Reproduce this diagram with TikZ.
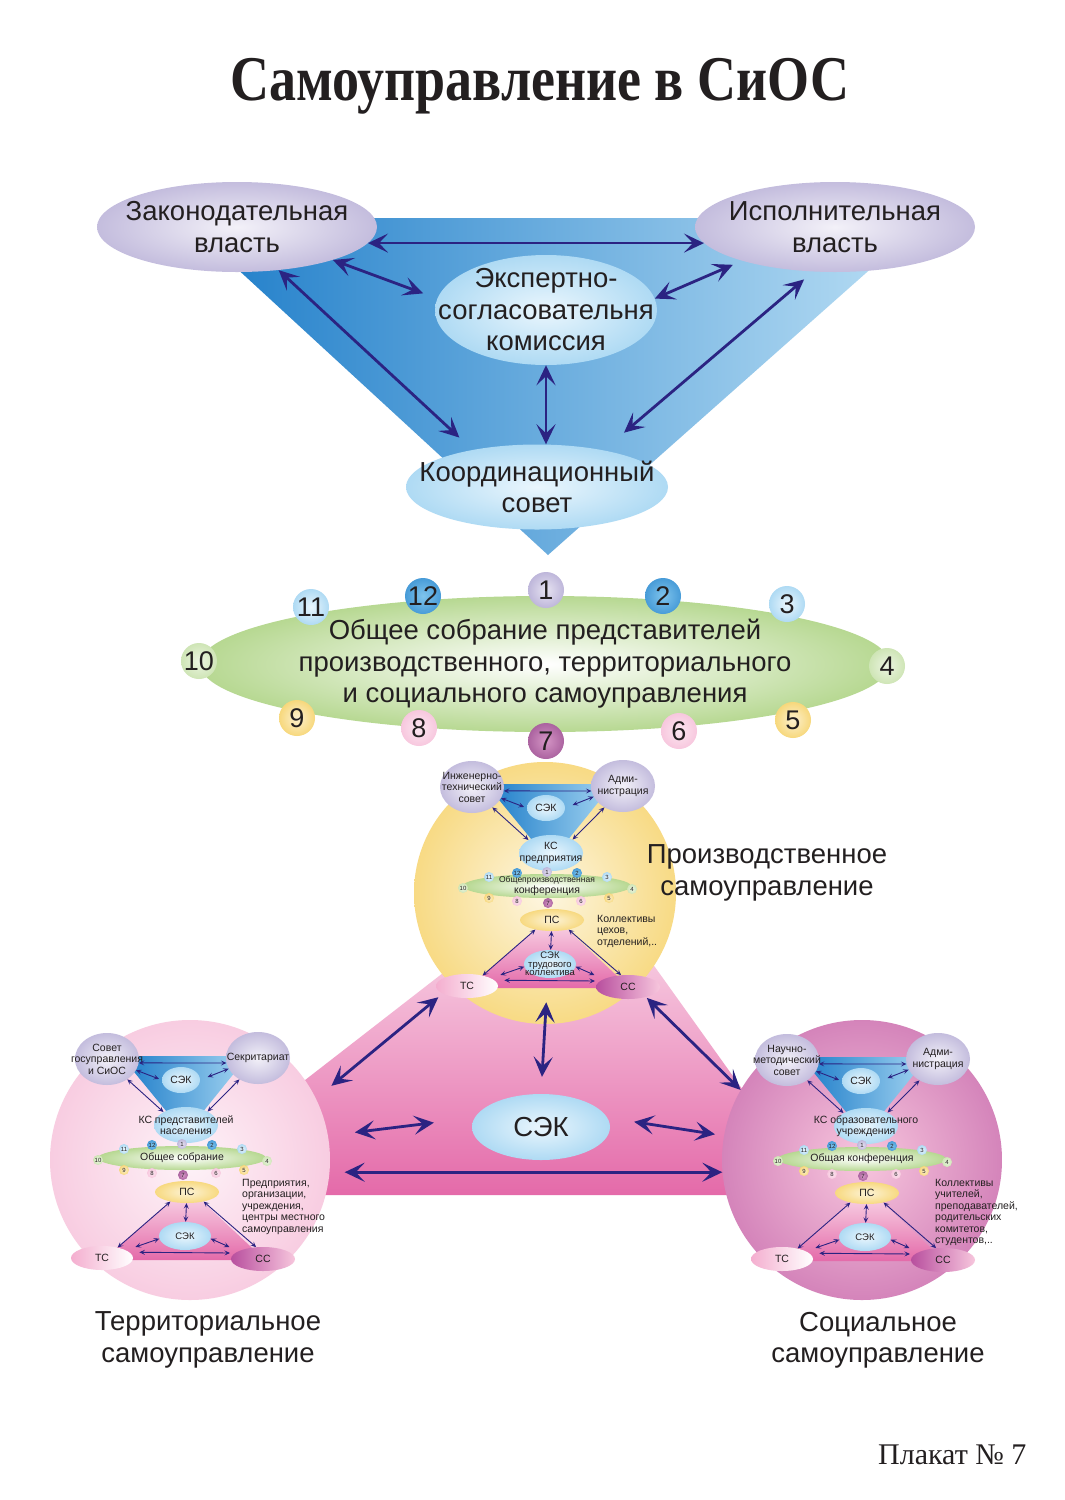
\documentclass[tikz,border=0pt]{standalone}
\usepackage{fontspec}
\setmainfont{Liberation Sans}
\newfontfamily\titlefont{Liberation Serif}
\usepackage{graphicx}
\usepackage{tikz}
\usetikzlibrary{shapes.geometric, arrows.meta}
\definecolor{ink}{HTML}{231F20}
\definecolor{navy}{HTML}{2B2382}
\definecolor{lilac}{HTML}{C2B9DD}
\definecolor{lilacdeep}{HTML}{9E93C8}
\definecolor{deepblue}{HTML}{1B7BC8}
\definecolor{sky}{HTML}{7FC4EC}
\definecolor{paleblue}{HTML}{BCE0F5}
\definecolor{icy}{HTML}{EAF6FD}
\definecolor{leaf}{HTML}{7DB93A}
\definecolor{sun}{HTML}{F3C43A}
\definecolor{rose}{HTML}{F4AECF}
\definecolor{hotpink}{HTML}{E46AA9}
\definecolor{plum}{HTML}{B84F9E}
\definecolor{grape}{HTML}{8A3A82}
\makeatletter
\pgfdeclareradialshading[tikz@radial@inner,tikz@radial@outer]{soft}{\pgfpoint{0bp}{0bp}}{color(0bp)=(tikz@radial@inner); color(45bp)=(tikz@radial@outer); color(50bp)=(tikz@radial@outer)}
\makeatother
\tikzstyle{power} = [ellipse, minimum width=280, minimum height=90, inner color=lilac!20, outer color=lilacdeep, shading=soft]
\tikzstyle{bubble} = [ellipse, inner color=icy, outer color=sky, shading=soft]
\tikzstyle{meadow} = [ellipse, inner color=white, outer color=leaf, shading=soft]
\tikzstyle{lilacdot} = [ellipse, minimum width=64, minimum height=52, inner color=lilac!20, outer color=lilacdeep, shading=soft]
\tikzstyle{sunny} = [ellipse, inner color=sun!20, outer color=sun, shading=soft]
\tikzstyle{tsoval} = [ellipse, minimum width=62, minimum height=24, left color=rose, right color=white]
\tikzstyle{ccoval} = [ellipse, minimum width=64, minimum height=24, left color=plum, right color=rose!70]
\tikzstyle{sunball} = [circle, minimum size=262, inner sep=0pt, inner color=sun!15, outer color=sun, shading=soft]
\tikzstyle{roseball} = [circle, minimum size=280, inner sep=0pt, inner color=rose!15, outer color=rose, shading=soft]
\tikzstyle{plumball} = [circle, minimum size=280, inner sep=0pt, inner color=rose!70, outer color=plum, shading=soft]
\tikzstyle{bigtext} = [font=\fontsize{27.5}{31.5}\selectfont, align=center]
\tikzstyle{tinytext} = [font=\fontsize{10.5}{11.5}\selectfont, align=center, inner sep=0pt]
\tikzstyle{sidetext} = [font=\fontsize{10.5}{11.5}\selectfont, align=left, anchor=north west, inner sep=0pt]
\tikzstyle{num} = [circle, minimum size=36, inner sep=0pt, font=\fontsize{27}{27}\selectfont]
\tikzstyle{snum} = [circle, minimum size=10, inner sep=0pt, font=\fontsize{6}{6}\selectfont]
\tikzstyle{clilac} = [inner color=lilac!40, outer color=lilacdeep, shading=soft]
\tikzstyle{cblue} = [inner color=sky, outer color=deepblue, shading=soft]
\tikzstyle{csky} = [inner color=icy, outer color=sky, shading=soft]
\tikzstyle{cgreen} = [inner color=leaf!15, outer color=leaf!55, shading=soft]
\tikzstyle{cyellow} = [inner color=sun!25, outer color=sun, shading=soft]
\tikzstyle{cpink} = [inner color=rose!30, outer color=rose, shading=soft]
\tikzstyle{cplum} = [inner color=plum!60, outer color=grape, shading=soft]
\tikzstyle{arrow} = [navy, line width=2.8pt, {Stealth[length=20pt, width=19pt, inset=9pt]}-{Stealth[length=20pt, width=19pt, inset=9pt]}]
\tikzstyle{arr} = [navy, line width=0.9pt, {Stealth[length=5.5pt, width=5pt, inset=2.4pt]}-{Stealth[length=5.5pt, width=5pt, inset=2.4pt]}]
\begin{document}
\begin{tikzpicture}[x=1pt, y=-1pt]
\tikzstyle{every node}=[text=ink]
\def\selfgov#1#2#3#4#5#6#7#8#9{
\begin{scope}[shift={#2}]
\shade[left color=deepblue, right color=sky!70] (-66,-136) -- (61,-136) -- (-2,-58) -- cycle;
\node (#1tl) [lilacdot] at (-80,-133) {};
\node (#1tlt) [tinytext] at (#1tl) {#3};
\node (#1tr) [lilacdot] at (71,-134) {};
\node (#1trt) [tinytext] at (#1tr) {#4};
\node (#1sek) [bubble, minimum width=38, minimum height=26] at (-6,-112) {};
\node (#1sekt) [tinytext] at (#1sek) {СЭК};
\node (#1ks) [bubble, minimum width=64, minimum height=36] at (-1,-67) {};
\node (#1kst) [tinytext] at (#1ks) {#5};
\draw[arr] (#1tl.-7) -- (#1tr.-171);
\draw[arr, shorten >=3pt] (#1tl.-21) -- (#1sek.180);
\draw[arr, shorten >=8pt] (#1tr.-160) -- (#1sek.0);
\draw[arr] (#1tl.-45) -- (#1ks.150);
\draw[arr] (#1tr.-131) -- (#1ks.32);
\node (#1meet) [meadow, minimum width=168, minimum height=24] at (-5,-34) {};
\node (#1n1) [snum, clilac] at (-5,-48) {1};
\node (#1n2) [snum, cblue] at (25,-47) {2};
\node (#1n3) [snum, csky] at (55,-43) {3};
\node (#1n4) [snum, cgreen] at (80,-31) {4};
\node (#1n5) [snum, cyellow] at (57,-22) {5};
\node (#1n6) [snum, cpink] at (29,-19) {6};
\node (#1n7) [snum, cplum] at (-4,-17) {7};
\node (#1n8) [snum, cpink] at (-35,-19) {8};
\node (#1n9) [snum, cyellow] at (-63,-22) {9};
\node (#1n10) [snum, cgreen] at (-89,-32) {10};
\node (#1n11) [snum, csky] at (-63,-43) {11};
\node (#1n12) [snum, cblue] at (-35,-47) {12};
\node (#1meett) [tinytext] at (#1meet) {#6};
\shade[top color=rose!40, bottom color=hotpink] (0,-5) -- (-84,68) -- (78,68) -- cycle;
\node (#1ps) [sunny, minimum width=64, minimum height=22] at (0,0) {};
\node (#1pst) [tinytext] at (#1ps) {ПС};
\node (#1sek2) [bubble, minimum width=52, minimum height=28] at (-2,44) {};
\node (#1sek2t) [tinytext, font=\fontsize{9.5}{8.5}\selectfont] at (#1sek2) {#7};
\node (#1ts) [tsoval] at (-85,66) {};
\node (#1tst) [tinytext] at (#1ts) {ТС};
\node (#1cc) [ccoval] at (76,67) {};
\node (#1cct) [tinytext] at (#1cc) {СС};
\draw[arr] (#1ps.-150) -- (#1ts.34);
\draw[arr] (#1ps.-30) -- (#1cc.120);
\draw[arr] (#1ps) -- (#1sek2);
\draw[arr, shorten >=10pt] (#1sek2.-174) -- (#1ts.18);
\draw[arr, shorten >=10pt] (#1sek2.-6) -- (#1cc.162);
\draw[arr, shorten <=10pt, shorten >=5pt] (#1ts.12) -- (#1cc.168);
\node (#1side) [sidetext] at #9 {#8};
\end{scope}}
\useasboundingbox (0,0) rectangle (1065,1500);
\fill[white] (0,0) rectangle (1065,1500);
\node (title) [font=\titlefont\bfseries\fontsize{54}{60}\selectfont] at (540,86) {\scalebox{1}[1.18]{Самоуправление в СиОС}};

\shade[left color=deepblue, right color=paleblue] (182,218) -- (928,218) -- (548,555) -- cycle;
\node (zak) [power] at (237,227) {};
\node (zakt) [bigtext] at (zak) {Законодательная\\власть};
\node (isp) [power] at (835,227) {};
\node (ispt) [bigtext] at (isp) {Исполнительная\\власть};
\node (esk) [bubble, minimum width=222, minimum height=110] at (546,310) {};
\node (eskt) [bigtext] at (esk) {Экспертно-\\согласовательня\\комиссия};
\node (kc) [bubble, minimum width=262, minimum height=85] at (537,487) {};
\node (kct) [bigtext] at (kc) {Координационный\\совет};

\draw[arrow] (zak.-7) -- (isp.-173);
\draw[arrow, shorten >=15pt] (zak.-19) -- (esk.174);
\draw[arrow, shorten <=10pt] (isp.-160) -- (esk.6);
\draw[arrow, shorten >=18pt] (zak.-46) -- (kc.150);
\draw[arrow, shorten <=12pt, shorten >=27pt] (isp.-116) -- (kc.29);
\draw[arrow] (esk.south) -- (esk.south |- kc.north);

\node (meet) [meadow, minimum width=690, minimum height=136] at (545,664) {};
\node (meett) [bigtext] at (meet) {Общее собрание представителей\\производственного, территориального\\и социального самоуправления};
\node (n1) [num, clilac] at (546,590) {1};
\node (n2) [num, cblue] at (663,596) {2};
\node (n3) [num, csky] at (787,604) {3};
\node (n4) [num, cgreen] at (887,666) {4};
\node (n5) [num, cyellow] at (793,720) {5};
\node (n6) [num, cpink] at (679,731) {6};
\node (n7) [num, cplum] at (546,741) {7};
\node (n8) [num, cpink] at (419,728) {8};
\node (n9) [num, cyellow] at (297,718) {9};
\node (n10) [num, cgreen] at (199,661) {10};
\node (n11) [num, csky] at (311,607) {11};
\node (n12) [num, cblue] at (423,596) {12};

\shade[top color=rose!40, bottom color=hotpink] (537,900) -- (607,900) -- (818,1195) -- (157,1195) -- cycle;
\node (prod) [sunball] at (545,893) {};
\node (terr) [roseball] at (190,1160) {};
\node (soc) [plumball] at (862,1160) {};

\selfgov{p}{(552,920)}{Инженерно-\\технический\\совет}{Адми-\\нистрация}{КС\\предприятия}{\fontsize{8.5}{9.5}\selectfont Общепроизводственная\\конференция}{СЭК\\трудового\\коллектива}{Коллективы\\цехов,\\отделений,..}{(45,-5)}
\selfgov{t}{(187,1192)}{Совет\\госуправления\\и СиОС}{Секритариат}{КС представителей\\населения}{Общее собрание}{СЭК}{Предприятия,\\организации,\\учреждения,\\центры местного\\самоуправления}{(55,-13)}
\selfgov{s}{(867,1193)}{Научно-\\методический\\совет}{Адми-\\нистрация}{КС образовательного\\учреждения}{Общая конференция}{СЭК}{Коллективы\\учителей,\\преподавателей,\\родительских\\комитетов,\\студентов,..}{(68,-14)}

\node (sekc) [bubble, minimum width=138, minimum height=66] at (541,1127) {};
\node (sekct) [bigtext] at (sekc) {СЭК};
\draw[arrow, shorten <=-22pt, shorten >=17pt] (prod.south) -- (sekc.north);
\draw[arrow, shorten <=18pt, shorten >=20pt] (prod.-135) -- (terr.26);
\draw[arrow, shorten <=15pt] (prod.-46) -- (soc.150);
\draw[arrow, shorten <=27pt, shorten >=41pt] (terr.10) -- (sekc.172);
\draw[arrow, shorten <=27pt, shorten >=9pt] (sekc.8) -- (soc.170);
\draw[arrow, shorten <=15pt] (terr.-5) -- (soc.-175);

\node (prodlbl) [bigtext] at (767,873) {Производственное\\самоуправление};
\node (terrlbl) [bigtext] at (208,1340) {Территориальное\\самоуправление};
\node (soclbl) [bigtext] at (878,1340) {Социальное\\самоуправление};
\node (poster) [font=\titlefont\fontsize{30}{30}\selectfont, anchor=east] at (1030,1455) {Плакат № 7};
\end{tikzpicture}
\end{document}
